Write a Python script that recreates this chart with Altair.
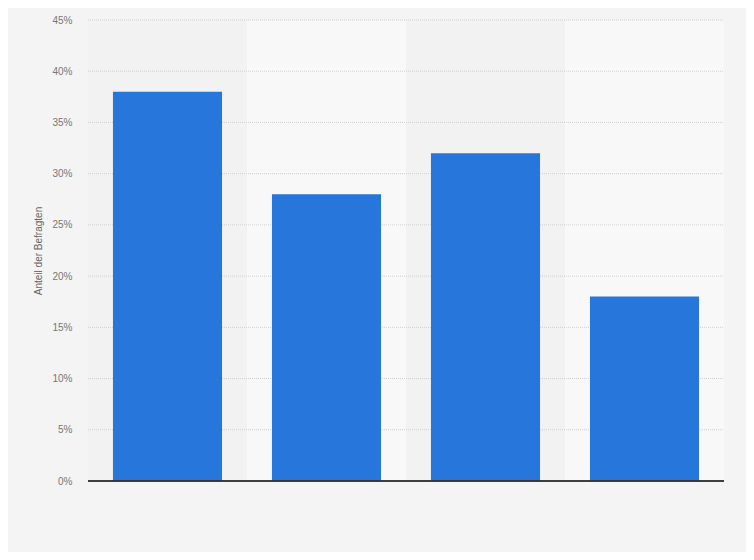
import altair as alt
import pandas as pd

categories = ["Kategorie 1", "Kategorie 2", "Kategorie 3", "Kategorie 4"]
values = [0.38, 0.28, 0.32, 0.18]
band_shade = ["a", "b", "a", "b"]
tick_values = [0.05, 0.1, 0.15, 0.2, 0.25, 0.3, 0.35, 0.4, 0.45]

df = pd.DataFrame({"cat": categories, "val": values, "shade": band_shade})
grid_df = pd.DataFrame({"t": tick_values})

yscale = alt.Scale(domain=[0, 0.45])
yaxis = alt.Axis(format="%", values=[0] + tick_values,
                 title="Anteil der Befragten", grid=False,
                 domain=False, ticks=False,
                 labelColor="#777777", labelFontSize=10, labelFont="Arial",
                 labelPadding=16, titleColor="#666666", titleFontSize=10,
                 titleFont="Arial", titleFontWeight="normal", titlePadding=8)

bg = alt.Chart(df).mark_rect().encode(
    x=alt.X("cat:N", sort=categories, axis=None,
            scale=alt.Scale(paddingInner=0, paddingOuter=0)),
    color=alt.Color("shade:N", scale=alt.Scale(domain=["a", "b"], range=["#f2f2f2", "#f8f8f8"]), legend=None),
)

grid = alt.Chart(grid_df).mark_rule(color="#d0d0d0", strokeDash=[1, 1], strokeWidth=1).encode(
    y=alt.Y("t:Q", scale=yscale, axis=yaxis), x=alt.value(0), x2=alt.value(636)
)

bars = alt.Chart(df).mark_bar(color="#2776db").encode(
    x=alt.X("cat:N", sort=categories, axis=None,
            scale=alt.Scale(paddingInner=0.314, paddingOuter=0.157)),
    y=alt.Y("val:Q", scale=yscale, axis=yaxis),
)

baseline = alt.Chart(df).mark_rule(color="#333333", strokeWidth=1.2).encode(
    y=alt.datum(0), x=alt.value(0), x2=alt.value(636)
)

chart = alt.layer(bg, grid, bars, baseline).resolve_scale(x="independent", color="independent").properties(
    width=636, height=461,
    background="#f4f4f4",
    autosize=alt.AutoSizeParams(type="none"),
    padding={"left": 80, "top": 12, "right": 22, "bottom": 71},
).configure_view(stroke=None)

chart.save("out.html", embed_options={"renderer": "svg", "actions": False})
